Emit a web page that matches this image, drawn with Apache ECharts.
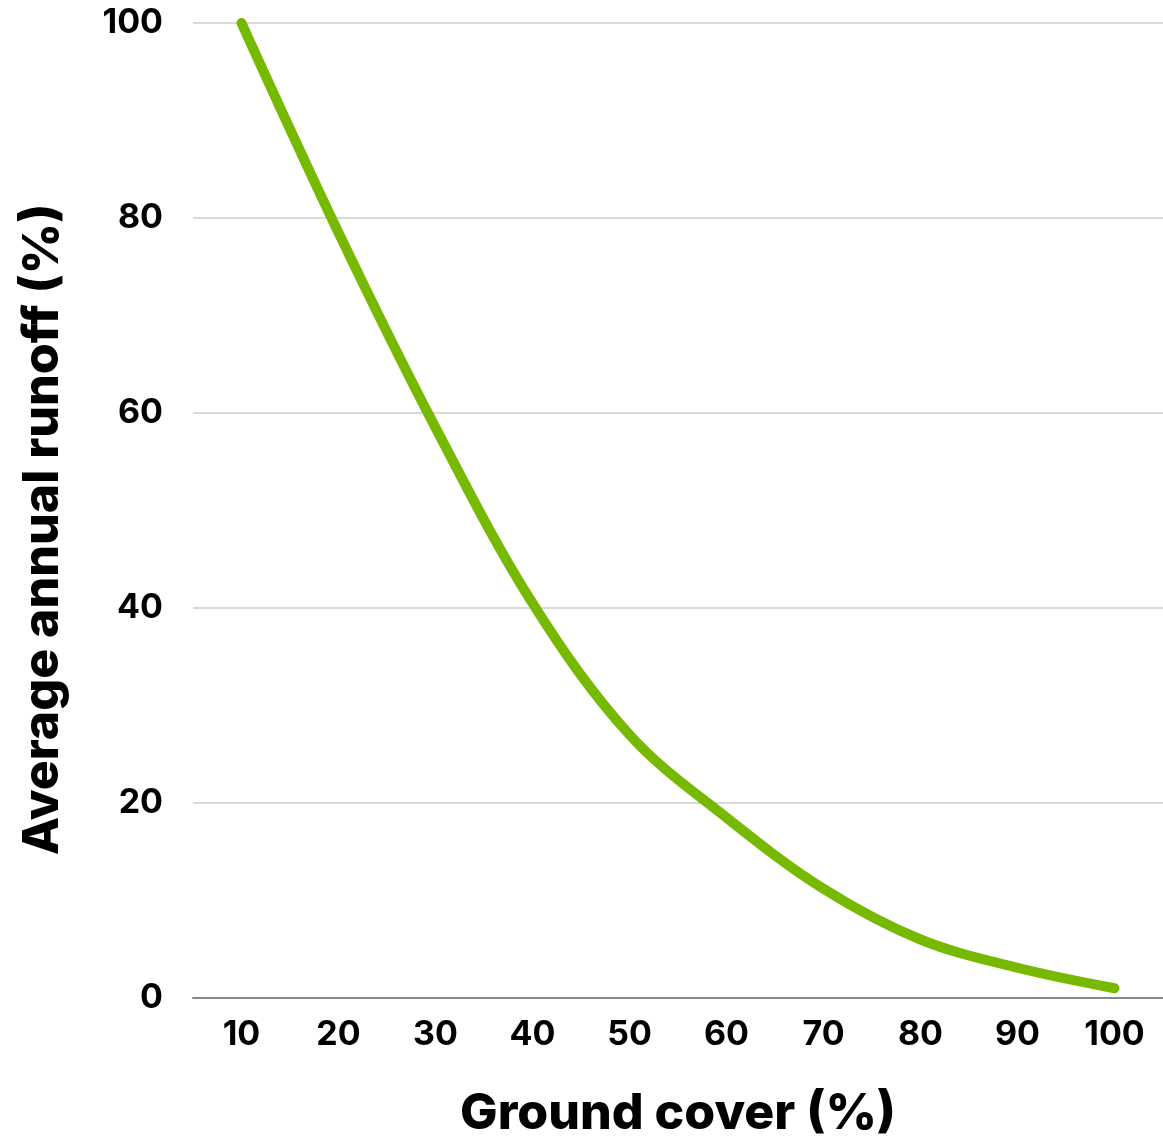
<!DOCTYPE html>
<html>
<head>
<meta charset="utf-8">
<script src="https://cdn.jsdelivr.net/npm/echarts@6/dist/echarts.min.js"></script>
<style>
html,body{margin:0;padding:0;background:#fff;}
#chart{width:1163px;height:1147px;}
</style>
</head>
<body>
<div id="chart"></div>
<script>
const groundCover = ['10','20','30','40','50','60','70','80','90','100'];
const runoff = [100, 78.5, 58.5, 40.5, 27, 18.5, 11.2, 6, 3.1, 1];
const yTicks = [0, 20, 40, 60, 80, 100];

const FONT = 'Inter';
const chart = echarts.init(document.getElementById('chart'));
chart.setOption({
  animation: false,
  backgroundColor: '#ffffff',
  grid: {left: 193, right: 0, top: 23, bottom: 149, containLabel: false, outerBoundsMode: 'none'},
  xAxis: {
    type: 'category',
    data: groundCover,
    boundaryGap: true,
    name: 'Ground cover (%)',
    nameLocation: 'middle',
    nameGap: 91,
    nameTextStyle: {fontFamily: FONT, fontWeight: 800, fontSize: 50, color: '#000'},
    axisLine: {lineStyle: {color: '#888', width: 2}},
    axisTick: {show: false},
    axisLabel: {fontFamily: FONT, fontWeight: 700, fontSize: 34, color: '#000', margin: 20}
  },
  yAxis: {
    type: 'value',
    min: yTicks[0],
    max: yTicks[yTicks.length - 1],
    interval: 20,
    name: 'Average annual runoff (%)',
    nameLocation: 'middle',
    nameGap: 125,
    nameTextStyle: {fontFamily: FONT, fontWeight: 800, fontSize: 50, color: '#000', padding: [0, 38, 0, 0]},
    axisLine: {show: false},
    axisTick: {show: false},
    axisLabel: {fontFamily: FONT, fontWeight: 700, fontSize: 34, color: '#000', margin: 30},
    splitLine: {lineStyle: {color: '#cccccc', width: 1.5}}
  },
  series: [{
    type: 'line',
    data: runoff,
    smooth: 0.35,
    symbol: 'none',
    lineStyle: {color: '#76b900', width: 10, cap: 'round', join: 'round'}
  }]
});
</script>
</body>
</html>
